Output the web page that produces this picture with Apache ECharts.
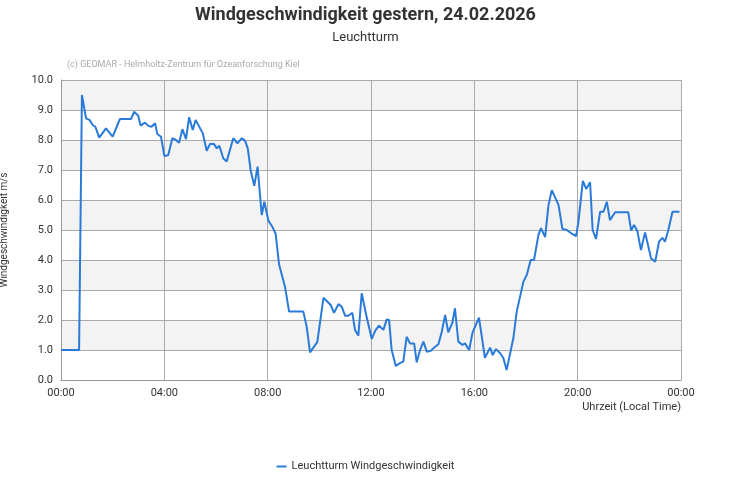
<!DOCTYPE html>
<html><head><meta charset="utf-8">
<script src="https://cdn.jsdelivr.net/npm/echarts@6/dist/echarts.min.js"></script>
<style>html,body{margin:0;padding:0;background:#fff}#c{width:731px;height:500px}</style>
</head><body><div id="c"></div>
<script>
const hours = [0,0.70,0.81,0.97,1.10,1.23,1.33,1.48,1.74,2.0,2.28,2.71,2.83,2.99,3.08,3.25,3.38,3.51,3.64,3.73,3.87,4.0,4.15,4.31,4.45,4.57,4.70,4.84,4.96,5.10,5.21,5.49,5.64,5.77,5.92,6.03,6.13,6.28,6.41,6.67,6.83,7.0,7.12,7.23,7.34,7.48,7.61,7.77,7.87,8.03,8.18,8.31,8.44,8.67,8.83,9.38,9.51,9.64,9.92,10.16,10.44,10.57,10.74,10.87,11.0,11.12,11.28,11.38,11.51,11.64,11.83,12.03,12.16,12.31,12.48,12.61,12.70,12.80,12.96,13.12,13.25,13.38,13.51,13.67,13.77,13.9,14.03,14.16,14.31,14.48,14.61,14.74,14.87,14.99,15.15,15.25,15.38,15.54,15.64,15.80,15.93,16.18,16.41,16.61,16.71,16.84,17.0,17.12,17.25,17.51,17.64,17.90,18.03,18.18,18.31,18.48,18.58,18.74,18.87,19.0,19.26,19.41,19.58,19.75,19.94,20.03,20.2,20.33,20.48,20.58,20.71,20.87,21.0,21.13,21.25,21.45,21.96,22.07,22.18,22.31,22.45,22.61,22.84,23.0,23.15,23.28,23.38,23.51,23.67,23.94];
const speeds = [1.0,1.0,9.5,8.72,8.67,8.5,8.44,8.08,8.39,8.11,8.7,8.7,8.94,8.81,8.48,8.58,8.47,8.44,8.56,8.2,8.11,7.47,7.49,8.06,8.0,7.91,8.36,8.03,8.76,8.33,8.67,8.22,7.64,7.87,7.87,7.72,7.81,7.39,7.28,8.06,7.89,8.06,7.98,7.72,7.0,6.47,7.11,5.5,5.94,5.31,5.11,4.87,3.86,3.11,2.28,2.28,1.78,0.92,1.26,2.74,2.5,2.24,2.53,2.44,2.14,2.14,2.24,1.67,1.48,2.89,2.11,1.37,1.64,1.81,1.67,2.02,2.0,1.0,0.47,0.56,0.61,1.44,1.22,1.22,0.59,1.0,1.28,0.94,0.97,1.11,1.19,1.61,2.17,1.59,1.91,2.39,1.28,1.17,1.22,1.0,1.58,2.08,0.74,1.08,0.83,1.03,0.89,0.74,0.33,1.39,2.28,3.28,3.5,4.0,4.0,4.83,5.06,4.76,5.83,6.33,5.83,5.03,5.0,4.89,4.8,5.28,6.64,6.37,6.59,5.0,4.7,5.61,5.61,5.94,5.33,5.59,5.59,4.98,5.17,4.97,4.33,4.92,4.06,3.94,4.61,4.74,4.61,5.0,5.61,5.61];
const xTicks = ['00:00','04:00','08:00','12:00','16:00','20:00','00:00'];
const data = hours.map((h,i)=>[h,speeds[i]]);
const chart = echarts.init(document.getElementById('c'));
chart.setOption({
  animation:false,
  textStyle:{fontFamily:'Roboto, Arial, sans-serif'},
  title:[
    {text:'Windgeschwindigkeit gestern, 24.02.2026',left:'center',top:1,textStyle:{fontSize:18,fontWeight:'bold',color:'#333'}},
    {text:'Leuchtturm',left:'center',top:26,textStyle:{fontSize:13,fontWeight:'normal',color:'#333'}},
    {text:'(c) GEOMAR - Helmholtz-Zentrum für Ozeanforschung Kiel',left:62,top:55,textStyle:{fontSize:9,fontWeight:'normal',color:'#aaa'}}
  ],
  grid:{left:61,right:50,top:80,bottom:120,containLabel:false,outerBoundsMode:'none'},
  legend:{bottom:23,left:'center',icon:'rect',itemWidth:10,itemHeight:2,textStyle:{fontSize:11,color:'#333'},data:['Leuchtturm Windgeschwindigkeit']},
  xAxis:{type:'value',min:0,max:24,interval:4,
    name:'Uhrzeit (Local Time)',nameLocation:'end',nameGap:0,
    nameTextStyle:{fontSize:11,color:'#333',align:'right',verticalAlign:'top',padding:[22,0,0,0]},
    axisLabel:{fontSize:11,color:'#333',formatter:v=>xTicks[v/4]},
    axisLine:{lineStyle:{color:'#999'}},axisTick:{show:false},
    splitLine:{show:true,lineStyle:{color:'#aaa'}}},
  yAxis:{type:'value',min:0,max:10,interval:1,
    name:'Windgeschwindigkeit m/s',nameLocation:'middle',nameGap:52,
    nameTextStyle:{fontSize:10,color:'#333'},
    axisLabel:{fontSize:11,color:'#333',formatter:v=>v.toFixed(1)},
    axisLine:{show:true,lineStyle:{color:'#999'}},axisTick:{show:false},
    splitLine:{lineStyle:{color:'#aaa'}},
    splitArea:{show:true,areaStyle:{color:['#ffffff','#f3f3f3']}}},
  series:[{name:'Leuchtturm Windgeschwindigkeit',type:'line',data:data,showSymbol:false,
    lineStyle:{color:'#2a7ad9',width:2},itemStyle:{color:'#2a7ad9'}}]
});
</script></body></html>
